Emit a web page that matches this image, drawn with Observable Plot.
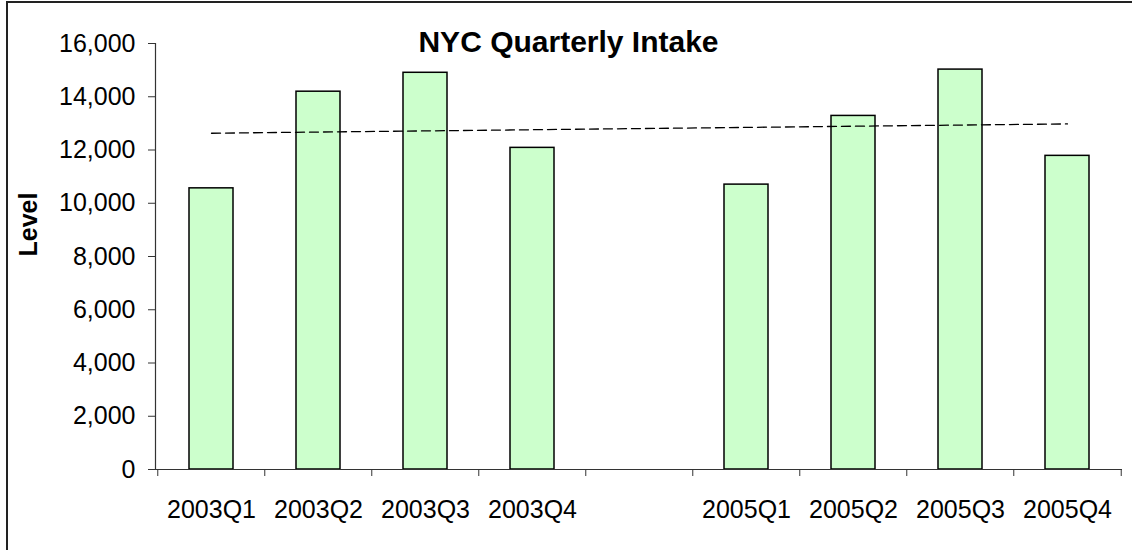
<!DOCTYPE html>
<html>
<head>
<meta charset="utf-8">
<script src="https://cdn.jsdelivr.net/npm/d3@7"></script>
<script src="https://cdn.jsdelivr.net/npm/@observablehq/plot@0.6"></script>
<style>
  html, body { margin: 0; padding: 0; background: #fff; }
  #chart { position: relative; width: 1132px; height: 550px; overflow: hidden; }
  #chart .edge {
    position: absolute; left: 6px; top: 1px; width: 3000px; height: 3000px;
    border-top: 2px solid #222; border-left: 2px solid #222; pointer-events: none;
  }
</style>
</head>
<body>
<div id="chart"><div class="edge"></div></div>
<script>
// Category slots along the x axis (the blank slot separates 2003 from 2005)
const quarters = ["2003Q1", "2003Q2", "2003Q3", "2003Q4", "", "2005Q1", "2005Q2", "2005Q3", "2005Q4"];

// Quarterly intake levels
const barQuarters = ["2003Q1", "2003Q2", "2003Q3", "2003Q4", "2005Q1", "2005Q2", "2005Q3", "2005Q4"];
const intake = [10560, 14190, 14900, 12080, 10700, 13280, 15020, 11780];

// Linear trend line end points
const trendQuarters = ["2003Q1", "2005Q4"];
const trendLevels = [12630, 12980];

// Y axis ticks
const yTicks = [0, 2000, 4000, 6000, 8000, 10000, 12000, 14000, 16000];

const title = "NYC Quarterly Intake";
const yLabel = "Level";

const bars = barQuarters.map((q, i) => ({quarter: q, level: intake[i]}));
const trend = trendQuarters.map((q, i) => ({quarter: q, level: trendLevels[i]}));

const width = 1132, height = 550;
const marginLeft = 155, marginRight = 10, marginTop = 43, marginBottom = 81;
const step = (width - marginLeft - marginRight) / quarters.length;
const frameCenter = marginLeft + (width - marginLeft - marginRight) / 2;

const font = "'Liberation Sans', Arial, Helvetica, sans-serif";

const chart = Plot.plot({
  width, height, marginLeft, marginRight, marginTop, marginBottom,
  style: {fontFamily: font, fontSize: "25px", color: "#000", background: "transparent", overflow: "visible"},
  x: {type: "band", domain: quarters, paddingInner: 0.59, paddingOuter: 0.295, align: 0.5, axis: null},
  y: {domain: [0, 16000], axis: null},
  marks: [
    Plot.barY(bars, {x: "quarter", y: "level", fill: "#ccffcc", stroke: "#000", strokeWidth: 1.5}),
    Plot.line(trend, {x: "quarter", y: "level", stroke: "#000", strokeWidth: 1.3, strokeDasharray: "9,5"}),
    // axis lines
    Plot.ruleY([0], {stroke: "#333", strokeWidth: 1.2}),
    Plot.frame({anchor: "left", stroke: "#333", strokeWidth: 1.2}),
    // y axis ticks and labels
    Plot.axisY({ticks: yTicks, tickFormat: d3.format(","), tickSize: 7, tickPadding: 13, fontSize: 25, stroke: "#333", label: null}),
    // category labels centred in each slot
    Plot.axisX({ticks: quarters, tickSize: 0, tickPadding: 31, fontSize: 25, tickFormat: d => d, label: null}),
    // tick marks on the slot boundaries
    Plot.axisX({ticks: quarters, tickSize: 7, tickFormat: () => "", dx: -step / 2, stroke: "#333", label: null}),
    Plot.axisX({ticks: [quarters[quarters.length - 1]], tickSize: 7, tickFormat: () => "", dx: step / 2, stroke: "#333", label: null}),
    // title and y axis label
    Plot.text([title], {frameAnchor: "top", dx: 568 - frameCenter, dy: -1, lineAnchor: "middle", fontWeight: "bold", fontSize: 30}),
    Plot.text([yLabel], {frameAnchor: "left", dx: 28 - marginLeft, rotate: -90, fontWeight: "bold", fontSize: 25})
  ]
});

document.getElementById("chart").appendChild(chart);
chart.style.position = "absolute";
chart.style.left = "0";
chart.style.top = "0";
</script>
</body>
</html>
